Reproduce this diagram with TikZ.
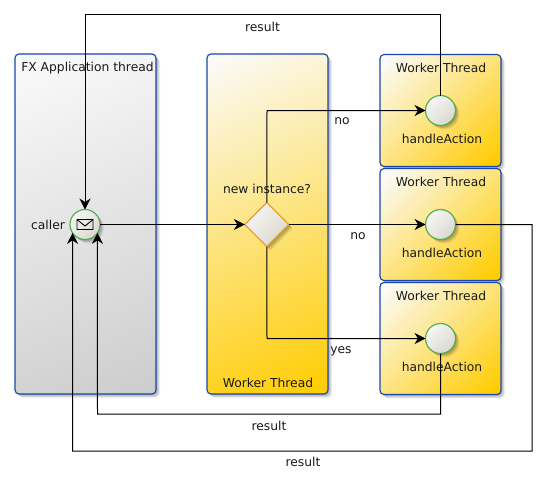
\documentclass[tikz,border=0pt]{standalone}
\usepackage{fontspec}
\setmainfont{DejaVu Sans}
\usetikzlibrary{arrows.meta,shapes.geometric,shadows}
\definecolor{poolblue}{HTML}{1A46A8}
\definecolor{evgreen}{HTML}{4CAF50}
\definecolor{gworange}{HTML}{E8A030}
\definecolor{gold}{HTML}{FFCC00}
\definecolor{greyend}{HTML}{CCCCCC}
\definecolor{nodeend}{HTML}{D5D3C8}
\definecolor{startwhite}{HTML}{FBFBFB}
\pgfdeclareverticalshading{goldgrad}{100bp}{color(0bp)=(gold); color(17bp)=(gold); color(83bp)=(startwhite); color(100bp)=(startwhite)}
\pgfdeclareverticalshading{greygrad}{100bp}{color(0bp)=(greyend); color(17bp)=(greyend); color(83bp)=(startwhite); color(100bp)=(startwhite)}
\pgfdeclareverticalshading{nodegrad}{100bp}{color(0bp)=(nodeend); color(17bp)=(nodeend); color(83bp)=(startwhite); color(100bp)=(startwhite)}
\tikzset{
  softshadow/.style={
    general shadow={shadow xshift=1pt,shadow yshift=-1pt,fill=black,opacity=.1},
    general shadow={shadow xshift=2pt,shadow yshift=-2pt,fill=black,opacity=.1},
    general shadow={shadow xshift=3pt,shadow yshift=-3pt,fill=black,opacity=.1},
    general shadow={shadow xshift=4pt,shadow yshift=-4pt,fill=black,opacity=.06}},
  pool/.style={draw=poolblue,line width=1.15pt,rounded corners=4pt,inner sep=0pt,outer sep=0pt,softshadow},
  greypool/.style={pool,shading=greygrad,shading angle=22},
  goldpool/.style={pool,shading=goldgrad,shading angle=25},
  goldbox/.style={pool,shading=goldgrad,shading angle=45},
  eventnode/.style={circle,draw=evgreen,line width=1.15pt,minimum size=30pt,inner sep=0pt,outer sep=0pt,
    shading=nodegrad,shading angle=45,softshadow},
  gatenode/.style={diamond,aspect=1,draw=gworange,line width=1.15pt,minimum width=44pt,minimum height=44pt,inner sep=0pt,outer sep=0pt,
    shading=nodegrad,shading angle=45,softshadow},
  txt/.style={font=\fontsize{12.3pt}{14pt}\selectfont,text=black!90,inner sep=0pt},
  flow/.style={draw=black,line width=1pt,-{Stealth[length=11pt,width=11pt,inset=3.5pt]}},
}
\begin{document}
\begin{tikzpicture}[x=1pt,y=-1pt]
\useasboundingbox (0,0) rectangle (548,487);
% lanes
\node[greypool,minimum width=141pt,minimum height=340pt] (fx) at (85.5,224) {};
\node[goldpool,minimum width=121pt,minimum height=340pt] (wt) at (267.5,224) {};
\node[goldbox,minimum width=121pt,minimum height=112pt] (w1) at (440.5,110.5) {};
\node[goldbox,minimum width=121pt,minimum height=112pt] (w2) at (440.5,224.5) {};
\node[goldbox,minimum width=121pt,minimum height=112pt] (w3) at (440.5,338.5) {};
% lane titles
\node[txt] (fxt) at (87.5,68) {FX Application thread};
\node[txt] (wtt) at (268,382.5) {Worker Thread};
\node[txt] (w1t) at (441,67.7) {Worker Thread};
\node[txt] (w2t) at (441,181.7) {Worker Thread};
\node[txt] (w3t) at (441,295.7) {Worker Thread};
% flow objects
\node[eventnode] (caller) at (85,224.5) {};
\node[gatenode] (gate) at (266.8,224.5) {};
\node[eventnode] (h1) at (440.5,110.5) {};
\node[eventnode] (h2) at (440.5,224.5) {};
\node[eventnode] (h3) at (440.5,338.5) {};
\draw[black,line width=.9pt,shift={(caller.center)}] (-8,-5) rectangle (8,5) (-8,-5) -- (0,1.5) -- (8,-5);
% object labels
\node[txt] (cl) at (48,224.5) {caller};
\node[txt] (gl) at (267,188.5) {new instance?};
\node[txt] (h1l) at (442,138.5) {handleAction};
\node[txt] (h2l) at (442,252.5) {handleAction};
\node[txt] (h3l) at (442,366.5) {handleAction};
% named bends
\coordinate (a1) at (440.5,15);
\coordinate (a2) at (85,15);
\coordinate (b1) at (267,110.5);
\coordinate (c1) at (267,338.5);
\coordinate (d1) at (532,224.5);
\coordinate (d2) at (532,451);
\coordinate (d3) at (72.5,451);
\coordinate (e1) at (440.5,414);
\coordinate (e2) at (97.5,414);
% connectors
\draw[flow] (h1.north) -- (a1) -- (a2) -- (caller.north);
\draw[flow] (caller.east) -- (gate.west);
\draw[flow] (gate.north) -- (b1) -- (h1.west);
\draw[flow] (gate.east) -- (h2.west);
\draw[flow] (gate.south) -- (c1) -- (h3.west);
\draw[flow] (h2.east) -- (d1) -- (d2) -- (d3) -- (caller.-146);
\draw[flow] (h3.south) -- (e1) -- (e2) -- (caller.-34);
% connector labels
\node[txt] (r1) at (262.5,27) {result};
\node[txt] (n1) at (342,121.5) {no};
\node[txt] (n2) at (358,236.5) {no};
\node[txt] (y1) at (341,351.5) {yes};
\node[txt] (r2) at (269,426) {result};
\node[txt] (r3) at (303,462) {result};
\end{tikzpicture}
\end{document}
